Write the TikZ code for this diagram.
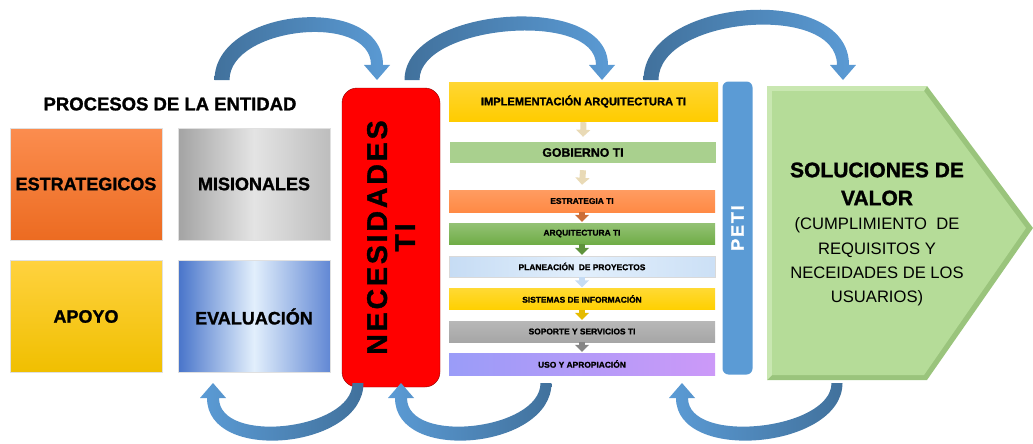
\documentclass[tikz,border=0pt]{standalone}
\usepackage{fontspec}
\setmainfont{Liberation Sans}[BoldFeatures={FakeBold=1.3}]
\newfontfamily\spacedfont{Liberation Sans}[LetterSpace=10, BoldFeatures={FakeBold=1.3}]
\usetikzlibrary{arrows.meta,calc}
\definecolor{arcdark}{HTML}{41719C}
\definecolor{arclight}{HTML}{5B9BD5}
\definecolor{estrtop}{HTML}{FB8D4F}
\definecolor{estrbot}{HTML}{EC6B21}
\definecolor{misdark}{HTML}{A3A3A3}
\definecolor{mislight}{HTML}{E4E4E4}
\definecolor{mismid}{HTML}{BDBDBD}
\definecolor{apotop}{HTML}{FFD23F}
\definecolor{apobot}{HTML}{F0BF00}
\definecolor{evadark}{HTML}{4874CA}
\definecolor{evalight}{HTML}{E2EFFC}
\definecolor{evamid}{HTML}{6288D4}
\definecolor{petiblue}{HTML}{5B9BD5}
\definecolor{implyellow}{HTML}{FFCC00}
\definecolor{gobgreen}{HTML}{A9D08E}
\definecolor{estrorange}{HTML}{FF8A45}
\definecolor{arqgreen}{HTML}{70AD47}
\definecolor{planblue}{HTML}{C6DCF4}
\definecolor{sisyellow}{HTML}{FFD000}
\definecolor{sopgray}{HTML}{A6A6A6}
\definecolor{usoleft}{HTML}{9A9CF8}
\definecolor{usoright}{HTML}{CC99F8}
\definecolor{solgreen}{HTML}{B5DC98}
\definecolor{soldark}{HTML}{9AC47C}
\definecolor{sollight}{HTML}{C9E7B1}
\definecolor{beigearr}{HTML}{E9DAB6}

% arco superior: cola, punta, curva exterior, curva interior
\newcommand{\toparc}[4]{%
  \shade[left color=arcdark, right color=arclight]
    ($(#1)+(-7.5,0)$) .. controls +(0,#3) and +(0,#3) .. ($(#2)+(6,-15)$)
    -- ($(#2)+(13,-15)$) -- (#2) -- ($(#2)+(-13,-15)$) -- ($(#2)+(-6,-15)$)
    .. controls +(0,#4) and +(0,#4) .. ($(#1)+(7.5,0)$) -- cycle;}
% arco inferior
\newcommand{\botarc}[4]{%
  \shade[left color=arclight, right color=arcdark]
    ($(#1)+(5.5,0)$) .. controls +(0,#3) and +(0,#3) .. ($(#2)+(-6,15)$)
    -- ($(#2)+(-13,15)$) -- (#2) -- ($(#2)+(13,15)$) -- ($(#2)+(6,15)$)
    .. controls +(0,#4) and +(0,#4) .. ($(#1)+(-5.5,0)$) -- cycle;}

\tikzset{
  procbox/.style={minimum width=152pt, minimum height=112pt, draw=black!12,
    font=\fontsize{18}{20}\selectfont\bfseries},
  stepbar/.style={minimum width=266pt, minimum height=22pt, inner sep=0pt,
    font=\fontsize{8.4}{10}\selectfont\bfseries},
  flowarr/.style={-{Triangle[width=14pt,length=7pt]}, line width=6pt, draw=#1},
}

\begin{document}
\begin{tikzpicture}[x=1pt, y=-1pt]
  \useasboundingbox (0,0) rectangle (1033,444);

  % procesos de la entidad
  \node[font=\fontsize{18.5}{20}\selectfont\bfseries] (titulo) at (170,104) {PROCESOS DE LA ENTIDAD};
  \node[procbox, top color=estrtop, bottom color=estrbot] (estr) at (86,184) {ESTRATEGICOS};
  \node[procbox, left color=misdark, right color=mismid, middle color=mislight] (mis) at (254,184) {MISIONALES};
  \node[procbox, top color=apotop, bottom color=apobot] (apo) at (86,316.5) {APOYO};
  \node[procbox, left color=evadark, right color=evamid, middle color=evalight] (eva) at (254,316.5) {EVALUACIÓN};

  % necesidades
  \node[rotate=90, minimum width=299pt, minimum height=98pt, rounded corners=15pt,
    fill=red, draw=red!55!black, align=center,
    font=\spacedfont\fontsize{28.5}{28}\selectfont\bfseries] (nec) at (391,237.5) {NECESIDADES\\TI};

  % etapas
  \node[stepbar, minimum width=269pt, minimum height=39pt, top color=implyellow!80!white, bottom color=implyellow,
    font=\fontsize{11.1}{13}\selectfont\bfseries] (impl) at (583.5,101.5) {IMPLEMENTACIÓN ARQUITECTURA TI};
  \node[stepbar, minimum height=21pt, fill=gobgreen, font=\fontsize{12.3}{14}\selectfont\bfseries] (gob) at (583,152.5) {GOBIERNO TI};
  \node[stepbar, top color=estrorange!85!white, bottom color=estrorange] (estrti) at (582,201) {ESTRATEGIA TI};
  \node[stepbar, minimum height=21pt, top color=arqgreen!75!white, bottom color=arqgreen] (arq) at (582,233.5) {ARQUITECTURA TI};
  \node[stepbar, minimum height=21pt, left color=planblue, right color=planblue!80!evalight, middle color=evalight,
    draw=black!15] (plan) at (582,266.5) {PLANEACIÓN\ \ DE PROYECTOS};
  \node[stepbar, minimum height=21pt, top color=sisyellow!80!white, bottom color=sisyellow] (sis) at (582,299) {SISTEMAS DE INFORMACIÓN};
  \node[stepbar, minimum height=21pt, top color=sopgray!80!white, bottom color=sopgray] (sop) at (582,331.5) {SOPORTE Y SERVICIOS TI};
  \node[stepbar, left color=usoleft, right color=usoright] (uso) at (582,364) {USO Y APROPIACIÓN};

  \draw[flowarr=beigearr] ([yshift=-1pt]impl.south) -- ([yshift=5pt]gob.north);
  \draw[flowarr=beigearr] ([yshift=-7pt]gob.south) -- ([yshift=5pt]estrti.north);
  \draw[flowarr=estrorange!80!black] (estrti.south) -- ([yshift=1pt]arq.north);
  \draw[flowarr=arqgreen!85!black] (arq.south) -- ([yshift=1pt]plan.north);
  \draw[flowarr=planblue] (plan.south) -- ([yshift=1pt]sis.north);
  \draw[flowarr=sisyellow!90!black] (sis.south) -- ([yshift=1pt]sop.north);
  \draw[flowarr=sopgray!80!black] (sop.south) -- ([yshift=1pt]uso.north);

  % peti
  \node[rotate=90, minimum width=293pt, minimum height=30pt, fill=petiblue, rounded corners=6pt,
    text=white, font=\spacedfont\fontsize{18}{20}\selectfont\bfseries] (peti) at (737.5,228) {PETI};

  % soluciones de valor
  \fill[soldark] (767,86) -- (927,86) -- (1033,228) -- (927,380) -- (767,380) -- cycle;
  \fill[sollight] (767,86) -- (927,86) -- (924,91) -- (772,91) -- (772,375) -- (767,380) -- cycle;
  \fill[solgreen] (772,91) -- (924,91) -- (1026,228) -- (924,375) -- (772,375) -- cycle;
  \node[align=center, font=\fontsize{21}{28}\selectfont\bfseries] (solTit) at (877,184)
    {SOLUCIONES DE\\VALOR};
  \node[align=center, font=\fontsize{16.6}{24.3}\selectfont] (solSub) at (877,262)
    {(CUMPLIMIENTO\ \ DE\\REQUISITOS Y\\NECEIDADES DE LOS\\USUARIOS)};

  % arcos
  \coordinate (entOut) at (222,80);   \coordinate (necIn) at (377,80);
  \coordinate (necOut) at (412,80);   \coordinate (implIn) at (602,80);
  \coordinate (implOut) at (651,80);  \coordinate (solIn) at (843,80);
  \coordinate (necDown) at (358,383); \coordinate (evaIn) at (213,383);
  \coordinate (usoDown) at (546,383); \coordinate (necUp) at (401,383);
  \coordinate (solDown) at (837,383); \coordinate (petiUp) at (682,383);

  \toparc{entOut}{necIn}{-73}{-53}
  \toparc{necOut}{implIn}{-74}{-55}
  \toparc{implOut}{solIn}{-83}{-63}
  \botarc{necDown}{evaIn}{66}{47}
  \botarc{usoDown}{necUp}{66}{47}
  \botarc{solDown}{petiUp}{66}{47}
\end{tikzpicture}
\end{document}
